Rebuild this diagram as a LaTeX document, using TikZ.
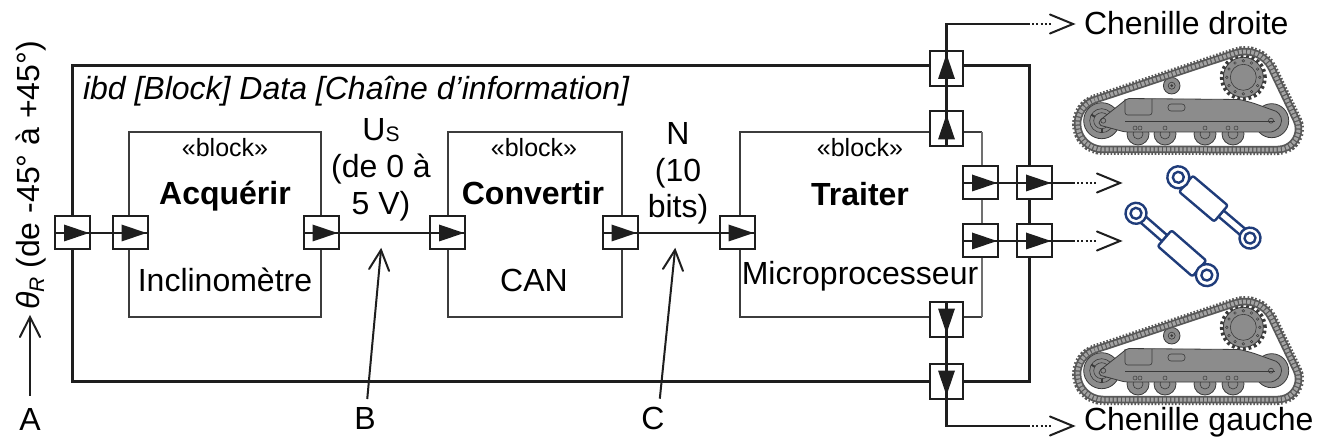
\documentclass[tikz,border=0pt]{standalone}
\usepackage{fontspec}
\setmainfont{Liberation Sans}
\usetikzlibrary{arrows.meta}
\definecolor{ink}{HTML}{1E1E1E}
\definecolor{blk}{HTML}{3C3C3C}
\definecolor{thinline}{HTML}{707070}
\definecolor{navy}{HTML}{1F3C7A}
\definecolor{trk}{HTML}{585858}
\definecolor{trkl}{HTML}{A4A4A4}
\definecolor{bodyg}{HTML}{8C8C8C}
\definecolor{bodyd}{HTML}{3A3A3A}

\newcommand\portR[1]{\fill[ink] ([xshift=-1pt]#1.east) -- ++(-25,-8.5) -- ++(0,17) -- cycle;}
\newcommand\portU[1]{\fill[ink] ([yshift=-3pt]#1.north) -- ++(-8.5,25) -- ++(17,0) -- cycle;}
\newcommand\portD[1]{\fill[ink] ([yshift=3pt]#1.south) -- ++(-8.5,-25) -- ++(17,0) -- cycle;}
\newcommand\openhead[4]{\draw[draw=ink, line width=2pt, line cap=round, line join=miter] ([shift={(#2:#4)}]#1) -- (#1) -- ([shift={(#3:#4)}]#1);}
\newcommand\crawlerpath{(-8.05,-24.20) -- (132.69,-71.00) arc[start angle=108.39, end angle=25.62, radius=29.5pt] -- (193.48,-3.86) arc[start angle=25.62, end angle=-90, radius=20.5pt] -- (0,25.5) arc[start angle=-90, end angle=-251.61, radius=25.5pt] -- cycle}

\tikzset{
  cyl/.style={draw=navy, line width=2.4pt, line join=round},
  mech/.style={draw=bodyd, line width=0.8pt, fill=bodyg},
  mechline/.style={draw=bodyd, line width=0.6pt},
  crawler/.pic={
    % outer teeth of the chain
    \draw[draw=trk, line width=11pt, dash pattern=on 1.6pt off 1.8pt] \crawlerpath;
    \fill[white] \crawlerpath;
    % idlers
    \draw[mech] (168.7,-3.3) circle[radius=17pt];
    \draw[mechline] (168.7,-3.3) circle[radius=9pt];
    \draw[mech] (-1.3,-3.3) circle[radius=18pt];
    \draw[mechline] (-1.3,-3.3) circle[radius=12pt];
    \draw[mechline] (-1.3,-3.3) circle[radius=8pt];
    \foreach \a in {30,150,270}{
      \draw[draw=bodyd, line width=2pt] ([shift={(\a:8pt)}]-1.3,-3.3) -- ([shift={(\a:12pt)}]-1.3,-3.3);
    }
    % bottom rollers
    \foreach \rx in {35,62,102,130}{
      \draw[mech] (\rx,10) circle[radius=11pt];
      \draw[mechline] (\rx,10) circle[radius=5pt];
    }
    % sprocket
    \draw[draw=bodyd, line width=4pt, dash pattern=on 2.8pt off 2.8pt] (140.3,-46.7) circle[radius=21.5pt];
    \draw[mech] (140.3,-46.7) circle[radius=20pt];
    \draw[mechline] (140.3,-46.7) circle[radius=13pt];
    \foreach \a in {0,30,...,330}{
      \draw[draw=bodyd, line width=0.5pt] ([shift={(\a:16.5pt)}]140.3,-46.7) circle[radius=1.3pt];
    }
    % carrier roller
    \draw[mech] (68.7,-38.3) circle[radius=8.3pt];
    \draw[mechline] (68.7,-38.3) circle[radius=3.5pt];
    \fill[bodyd] (68.7,-38.3) circle[radius=1.5pt];
    % frame body
    \draw[mech, rounded corners=2pt] (-4,-3) -- (20,-22) -- (24,-25.5) -- (137,-24.5) -- (150,-21) -- (175,-12) -- (179,-5) -- (177,3) -- (170,8) -- (22,8) -- (-4,1) -- cycle;
    \draw[mechline, rounded corners=2.5pt] (22,-25) -- (22,-9) -- (49,-9) -- (49,-25);
    \draw[mechline, rounded corners=3pt] (65,-20) rectangle (82,-13);
    \draw[mechline] (22,-3) -- (172,-3);
    \draw[mechline] (0.3,-3.3) circle[radius=2.5pt];
    \draw[mechline] (168,-3.3) circle[radius=2.5pt];
    \foreach \bx in {32,37,62,102,125,133}{
      \draw[draw=bodyd, line width=0.5pt] (\bx,4) circle[radius=2pt];
    }
    % chain band and links
    \draw[draw=trk, line width=7.5pt] \crawlerpath;
    \draw[draw=trkl, line width=4pt, dash pattern=on 2.8pt off 1.3pt] \crawlerpath;
  },
  cylA/.pic={
    \draw[cyl] (0,-6) -- (12,-6) (0,6) -- (12,6);
    \draw[cyl, fill=white] (56,-4) rectangle (86,4);
    \draw[cyl, fill=white, rounded corners=2pt] (10,-10.5) rectangle (56,10.5);
    \draw[cyl, fill=white] (0,0) circle[radius=11pt];
    \draw[cyl] (0,0) circle[radius=5.5pt];
    \draw[cyl, fill=white] (94,0) circle[radius=10.5pt];
    \draw[cyl] (94,0) circle[radius=5.5pt];
  },
  cylB/.pic={
    \draw[cyl, fill=white] (6,-4) rectangle (38,4);
    \draw[cyl] (82,-6) -- (94,-6) (82,6) -- (94,6);
    \draw[cyl, fill=white, rounded corners=2pt] (38,-10.5) rectangle (84,10.5);
    \draw[cyl, fill=white] (0,0) circle[radius=10.5pt];
    \draw[cyl] (0,0) circle[radius=5.5pt];
    \draw[cyl, fill=white] (94,0) circle[radius=11pt];
    \draw[cyl] (94,0) circle[radius=5.5pt];
  }
}

\begin{document}
\begin{tikzpicture}[x=1pt, y=-1pt,
  every node/.style={inner sep=0pt, outer sep=0pt, text=black},
  outerframe/.style={draw=ink, line width=3pt},
  blockbox/.style={draw=blk, line width=2pt},
  portbox/.style={rectangle, draw=ink, line width=2pt, fill=white, minimum width=35pt, minimum height=33pt},
  vport/.style={rectangle, draw=ink, line width=2pt, fill=white, minimum width=33pt, minimum height=35pt},
  flowline/.style={draw=ink, line width=2.5pt},
  dotflow/.style={draw=ink, line width=2pt, dash pattern=on 2pt off 2.2pt, shorten >=22pt},
  pointer/.style={draw=ink, line width=2pt},
  txt/.style={font=\fontsize{32}{36}\selectfont, anchor=base},
  stereo/.style={font=\fontsize{25}{30}\selectfont, anchor=base},
  namefont/.style={font=\fontsize{32}{36}\selectfont\bfseries, anchor=base}]

\fill[white] (0,0) rectangle (1330,446);
\useasboundingbox (0,0) rectangle (1330,446);

% frame
\draw[outerframe] (72.7,66) rectangle (1029,381);
\node[txt, anchor=base west, font=\fontsize{32}{36}\selectfont\itshape] (title) at (83,100) {ibd [Block] Data [Chaîne d’information]};

% blocks
\node[blockbox, minimum width=192pt, minimum height=185pt] (acq) at (225,224.5) {};
\node[blockbox, minimum width=174pt, minimum height=185pt] (conv) at (534.7,224.2) {};
\node[minimum width=242pt, minimum height=185pt] (tra) at (861,224.5) {};
\draw[blockbox] (tra.north east) -- (tra.north west) -- (tra.south west) -- (tra.south east);
\draw[thinline, line width=1.3pt] (tra.north east) -- (tra.south east);

\node[stereo] (acqSt) at (225,157) {«block»};
\node[namefont] (acqName) at (225,205) {Acquérir};
\node[txt] (acqSub) at (225,291) {Inclinomètre};
\node[stereo] (convSt) at (534,157) {«block»};
\node[namefont] (convName) at (533,205) {Convertir};
\node[txt] (convSub) at (534,291) {CAN};
\node[stereo] (traSt) at (860,157) {«block»};
\node[namefont] (traName) at (860,206) {Traiter};
\node[txt] (traSub) at (860,285) {Microprocesseur};

% ports
\node[portbox] (outL) at (72.5,233) {};
\node[portbox] (acqIn) at (130,233) {};
\node[portbox] (acqOut) at (321,233) {};
\node[portbox] (convIn) at (447.5,233) {};
\node[portbox] (convOut) at (620,233) {};
\node[portbox] (traIn) at (737,233) {};
\node[vport] (traTop) at (946.5,129) {};
\node[vport] (traBot) at (946.5,319) {};
\node[portbox] (traR1) at (980.5,183) {};
\node[portbox] (traR2) at (980.5,241) {};
\node[vport] (outTop) at (946.5,68.5) {};
\node[vport] (outBot) at (946.5,381) {};
\node[portbox] (outR1) at (1034.5,183) {};
\node[portbox] (outR2) at (1034.5,241) {};

% connector coordinates
\coordinate (tc) at (946.5,24);
\coordinate (td) at (1028,24);
\coordinate (te) at (1073,24);
\coordinate (bc) at (946.5,426);
\coordinate (bd) at (1028,426);
\coordinate (be) at (1073,426);
\coordinate (r1d) at (1073,183);
\coordinate (r1e) at (1120,183);
\coordinate (r2d) at (1073,241);
\coordinate (r2e) at (1120,241);

% flows
\draw[flowline] (outL.west) -- (acqIn.east);
\draw[flowline] (acqOut.west) -- (convIn.east);
\draw[flowline] (convOut.west) -- (traIn.east);
\draw[flowline] (traTop.south) -- (tc) -- (td);
\draw[dotflow] (td) -- (te);
\openhead{te}{157.6}{202.4}{24.9pt}
\draw[flowline] (traBot.north) -- (bc) -- (bd);
\draw[dotflow] (bd) -- (be);
\openhead{be}{157.6}{202.4}{24.9pt}
\draw[flowline] (traR1.west) -- (r1d);
\draw[dotflow] (r1d) -- (r1e);
\openhead{r1e}{157.6}{202.4}{24.9pt}
\draw[flowline] (traR2.west) -- (r2d);
\draw[dotflow] (r2d) -- (r2e);
\openhead{r2e}{157.6}{202.4}{24.9pt}

\portR{outL} \portR{acqIn} \portR{acqOut} \portR{convIn} \portR{convOut} \portR{traIn}
\portR{traR1} \portR{traR2} \portR{outR1} \portR{outR2}
\portU{traTop} \portU{outTop} \portD{traBot} \portD{outBot}

% flow labels
\node[txt] (us1) at (381,141) {U\raisebox{-1pt}{\fontsize{21}{21}\selectfont S}};
\node[txt] (us2) at (381,178) {(de 0 à};
\node[txt] (us3) at (381,215) {5 V)};
\node[txt] (n1) at (678,145) {N};
\node[txt] (n2) at (678,182) {(10};
\node[txt] (n3) at (678,218) {bits)};

% points A B C
\node[txt] (A) at (30,430) {A};
\node[txt] (B) at (365,429) {B};
\node[txt] (C) at (653,429) {C};
\coordinate (aTip) at (30,317);
\coordinate (bTip) at (381,250);
\coordinate (cTip) at (675,250);
\draw[pointer, shorten <=12pt] (A.north) -- (aTip);
\openhead{aTip}{243.4}{296.6}{22.4pt}
\draw[pointer, shorten <=8pt] ([xshift=1.5pt]B.north) -- (bTip);
\openhead{bTip}{237.9}{291.1}{22.4pt}
\draw[pointer, shorten <=8pt] ([xshift=6pt]C.north) -- (cTip);
\openhead{cTip}{237.6}{290.8}{22.4pt}

\node[txt, rotate=90] (theta) at (39,175.5) {\textit{θ}\raisebox{-5pt}{\fontsize{21}{21}\selectfont\itshape R} (de -45° à +45°)};

% outputs
\node[txt, anchor=base west] (cd) at (1084,35) {Chenille droite};
\node[txt, anchor=base west] (cg) at (1084,430) {Chenille gauche};

\pic at (1103,124) {crawler};
\pic at (1103,374) {crawler};
\pic[rotate=-40.3] at (1178.3,177.3) {cylA};
\pic[rotate=-41.1] at (1136,213.3) {cylB};

\end{tikzpicture}
\end{document}
